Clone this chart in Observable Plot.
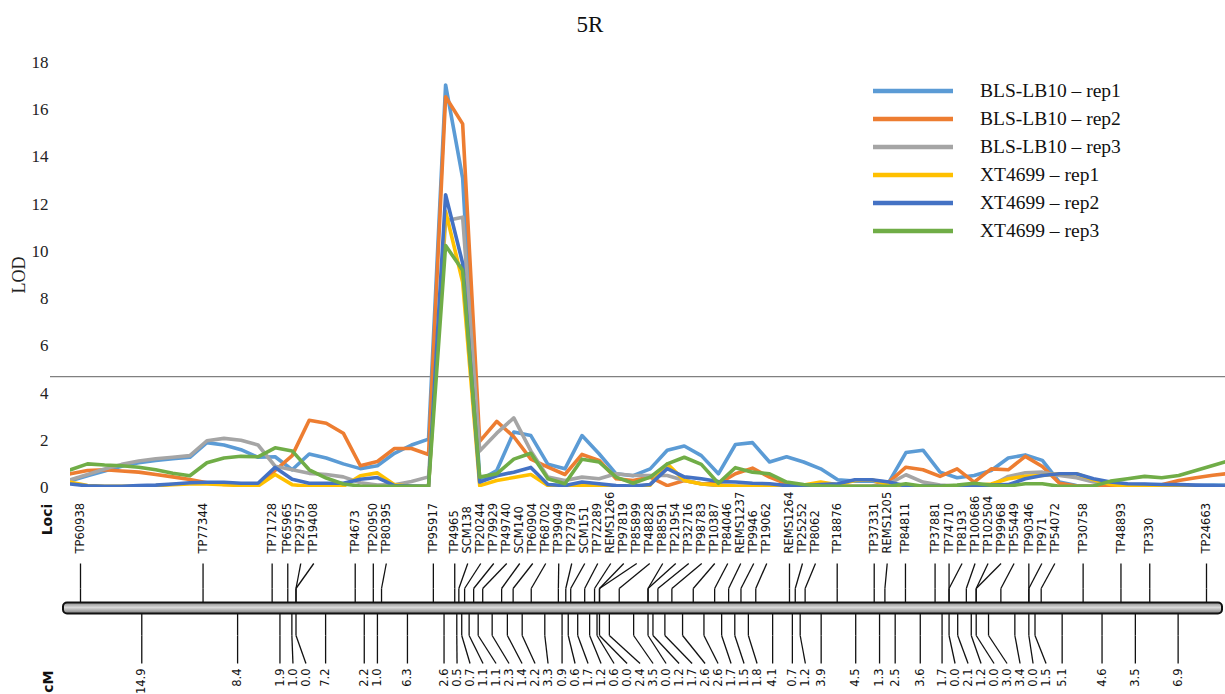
<!DOCTYPE html>
<html><head><meta charset="utf-8">
<script src="https://cdn.jsdelivr.net/npm/d3@7"></script>
<script src="https://cdn.jsdelivr.net/npm/@observablehq/plot@0.6"></script>
<style>
html,body{margin:0;padding:0;background:#fff;}
#wrap{position:relative;width:1225px;height:694px;overflow:hidden;background:#fff;}
#title{position:absolute;left:0;top:13px;width:1180px;text-align:center;font-family:"Liberation Serif",serif;font-size:23px;color:#111;line-height:1;}
#legend{position:absolute;left:873px;top:0;}
.lg{position:absolute;left:0;height:28px;display:flex;align-items:center;white-space:nowrap;font-family:"Liberation Serif",serif;font-size:19.5px;color:#111;}
.lg svg{margin-right:27px;display:block;}
#topchart svg,#mapchart svg{display:block;overflow:visible;}
#topchart{position:relative;z-index:2;}
</style>
</head><body>
<div id="wrap">
  <div id="topchart"></div>
  <div id="mapchart"></div>
  <div id="title">5R</div>
  <div id="legend"></div>
</div>
<script>
// ---------- DATA ----------
const chartTitle = "5R";
const yLabel = "LOD";
const yTicks = [0, 2, 4, 6, 8, 10, 12, 14, 16, 18];
const threshold = 4.7;
const seriesNames = ["BLS-LB10 – rep1", "BLS-LB10 – rep2", "BLS-LB10 – rep3", "XT4699 – rep1", "XT4699 – rep2", "XT4699 – rep3"];

const blsRep1 = [0.28,0.5,0.7,0.9,1.05,1.15,1.22,1.28,1.9,1.8,1.6,1.28,1.3,0.75,1.42,1.25,1.0,0.8,0.92,1.45,1.8,2.05,
  17.05,13.1,
  0.3,0.72,2.35,2.2,0.98,0.79,2.2,1.43,0.58,0.5,0.79,1.58,1.76,1.35,0.58,1.82,1.9,1.08,1.3,1.08,0.79,0.33,0.27,0.27,0.23,1.48,1.58,0.65,0.41,0.51,0.72,1.25,1.38,1.15,0.23,0.08,0.06,0.06,0.06,0.06,0.06,0.08,0.08,0.1,0.1];
const blsRep2 = [0.58,0.72,0.75,0.7,0.65,0.55,0.45,0.34,0.2,0.13,0.13,0.15,0.72,1.35,2.85,2.72,2.3,0.92,1.1,1.65,1.65,1.4,
  16.55,15.4,
  1.95,2.8,2.15,1.2,0.86,0.55,1.4,1.15,0.37,0.3,0.44,0.08,0.3,0.16,0.16,0.58,0.82,0.44,0.16,0.08,0.06,0.05,0.05,0.05,0.23,0.86,0.75,0.47,0.79,0.23,0.79,0.75,1.32,0.89,0.18,0.06,0.05,0.05,0.05,0.05,0.12,0.3,0.41,0.52,0.6];
const blsRep3 = [0.33,0.55,0.78,0.98,1.12,1.22,1.28,1.35,1.98,2.08,2.0,1.8,0.9,0.75,0.6,0.55,0.45,0.2,0.1,0.12,0.25,0.45,
  11.3,11.45,
  1.55,2.3,2.95,1.55,0.44,0.3,0.44,0.37,0.58,0.51,0.51,0.51,0.3,0.16,0.07,0.06,0.05,0.05,0.05,0.05,0.05,0.05,0.05,0.05,0.15,0.54,0.23,0.1,0.06,0.05,0.08,0.47,0.62,0.65,0.51,0.41,0.23,0.16,0.12,0.12,0.08,0.06,0.05,0.05,0.05];
const xtRep1 = [0.22,0.08,0.05,0.05,0.06,0.08,0.12,0.15,0.15,0.12,0.08,0.06,0.55,0.12,0.05,0.05,0.05,0.5,0.62,0.12,0.05,0.05,
  11.7,8.7,
  0.08,0.3,0.42,0.55,0.08,0.04,0.08,0.06,0.05,0.04,0.1,1.0,0.3,0.15,0.1,0.06,0.05,0.05,0.05,0.1,0.23,0.12,0.3,0.33,0.12,0.05,0.05,0.05,0.05,0.08,0.15,0.37,0.47,0.51,0.58,0.58,0.33,0.13,0.05,0.04,0.04,0.04,0.04,0.04,0.04];
const xtRep2 = [0.15,0.07,0.05,0.05,0.08,0.1,0.15,0.2,0.22,0.22,0.18,0.18,0.85,0.35,0.18,0.18,0.18,0.35,0.42,0.08,0.06,0.05,
  12.4,9.5,
  0.23,0.5,0.65,0.85,0.13,0.08,0.23,0.16,0.08,0.06,0.13,0.8,0.45,0.37,0.25,0.23,0.18,0.16,0.08,0.08,0.13,0.16,0.33,0.33,0.23,0.06,0.06,0.06,0.06,0.1,0.1,0.12,0.37,0.51,0.58,0.58,0.37,0.23,0.16,0.15,0.13,0.12,0.1,0.08,0.06];
const xtRep3 = [0.75,1.0,0.95,0.92,0.86,0.75,0.6,0.5,1.05,1.25,1.32,1.3,1.68,1.55,0.75,0.4,0.15,0.06,0.05,0.05,0.05,0.05,
  10.25,9.2,
  0.44,0.58,1.2,1.45,0.37,0.16,1.2,1.08,0.44,0.18,0.44,1.0,1.28,0.98,0.18,0.84,0.65,0.58,0.23,0.13,0.07,0.05,0.05,0.05,0.05,0.16,0.05,0.05,0.1,0.18,0.1,0.06,0.16,0.16,0.05,0.05,0.06,0.27,0.37,0.47,0.41,0.51,0.72,0.93,1.15];

const loci = ["TP60938","TP77344","TP71728","TP65965","TP29757","TP19408","TP4673","TP20950","TP80395","TP95917",
  "TP4965","SCM138","TP20244","TP79929","TP49740","SCM140","TP60904","TP68702","TP39049","TP27978","SCM151","TP72289",
  "REMS1266","TP97819","TP85899","TP48828","TP88591","TP21954","TP32716","TP98783","TP10387","TP84046","REMS1237",
  "TP9946","TP19062","REMS1264","TP25252","TP8062","TP18876","TP37331","REMS1205","TP84811","TP37881","TP74710",
  "TP8193","TP100686","TP102504","TP99968","TP55449","TP90346","TP971","TP54072","TP30758","TP48893","TP330","TP24663"];
const cmIntervals = [14.9,8.4,1.9,1.0,0.0,7.2,2.2,1.0,6.3,
  2.6,0.5,0.7,1.1,1.1,2.3,1.4,2.2,3.3,0.9,0.6,1.7,1.2,0.6,0.0,2.4,3.5,0.0,1.2,1.7,2.6,2.6,1.7,1.5,1.8,4.1,0.7,1.2,3.9,
  4.5,1.3,2.5,3.6,1.7,0.0,2.1,1.2,0.0,3.0,3.4,0.0,1.5,5.1,4.6,3.5,6.9];

// ---------- STYLE / LAYOUT ----------
const seriesColors = ["#5B9BD5","#ED7D31","#A5A5A5","#FFC000","#4472C4","#70AD47"];
const allSeries = [blsRep1, blsRep2, blsRep3, xtRep1, xtRep2, xtRep3];
const serif = "'Liberation Serif', 'Times New Roman', serif";
const sans = "'DejaVu Sans', Verdana, sans-serif";

// long table for lines
const rows = [];
allSeries.forEach((arr, s) => arr.forEach((v, i) => rows.push({series: seriesNames[s], i, v})));
const nPts = blsRep1.length;

const topPlot = Plot.plot({
  width: 1225, height: 490,
  marginTop: 62, marginBottom: 3, marginLeft: 70, marginRight: 0,
  style: {fontFamily: serif, color: "#222", background: "transparent", overflow: "visible"},
  x: {domain: [0, nPts - 1], range: [70, 70 + 17.05 * (nPts - 1)], axis: null},
  y: {domain: [0, 18]},
  color: {domain: seriesNames, range: seriesColors},
  marks: [
    Plot.axisY({ticks: yTicks, tickSize: 0, tickPadding: 22, fontSize: 17, label: null}),
    Plot.text([yLabel], {frameAnchor: "left", dx: -51, textAnchor: "middle", rotate: -90, text: d => d, fontSize: 18, fill: "#222"}),
    Plot.ruleY([threshold], {stroke: "#808080", strokeWidth: 1.2, insetLeft: -20}),
    Plot.line(rows, {x: "i", y: "v", z: "series", stroke: "series", strokeWidth: 3.6, clip: true})
  ]
});
document.getElementById("topchart").appendChild(topPlot);

// ---------- Genetic map ----------
const pos = [0];
cmIntervals.forEach((d, i) => pos.push(+(pos[i] + d).toFixed(2)));
const total = pos[pos.length - 1];
const mapRange = [80, 1206];
const pxPerCM = (mapRange[1] - mapRange[0]) / total;
const labelGap = 13 / pxPerCM;
function spread(ideal, gap) {
  const out = [];
  ideal.forEach((v, i) => out.push(i ? Math.max(v, out[i - 1] + gap) : v));
  return out;
}
const lociLabelPos = spread(pos, labelGap);
const lociRows = loci.map((name, i) => ({name, at: pos[i], lab: lociLabelPos[i]}));
const mids = cmIntervals.map((d, i) => (pos[i] + pos[i + 1]) / 2);
const midLab = spread(mids, labelGap);
const intRows = cmIntervals.map((d, i) => ({cm: d, at: mids[i], lab: midLab[i]}));
const padL = 17 / pxPerCM, padR = 16 / pxPerCM;
const tier = {lociText: 63, lociTop: 73, lociKink: 98, chromTop: 112.5, chromBottom: 123.5, cmKink: 145, cmEnd: 173, cmText: 178, lociHead: 29, cmHead: 180};

const mapPlot = Plot.plot({
  width: 1225, height: 204,
  marginTop: 0, marginBottom: 0, marginLeft: 0, marginRight: 0,
  style: {fontFamily: sans, background: "transparent", color: "#111", overflow: "visible"},
  x: {domain: [0, total], range: mapRange, axis: null},
  y: {type: "identity", axis: null},
  marks: [
    Plot.text(lociRows, {x: "lab", y: () => tier.lociText, text: "name", rotate: -90, textAnchor: "start", fontSize: 11.5, fill: "#111"}),
    Plot.link(lociRows, {x1: "lab", x2: "at", y1: () => tier.lociTop, y2: () => tier.lociKink, stroke: "#111", strokeWidth: 1.3}),
    Plot.link(lociRows, {x1: "at", x2: "at", y1: () => tier.lociKink, y2: () => tier.chromTop, stroke: "#111", strokeWidth: 1.3}),
    Plot.link(intRows, {x1: "at", x2: "at", y1: () => tier.chromBottom, y2: () => tier.cmKink, stroke: "#111", strokeWidth: 1.3}),
    Plot.link(intRows, {x1: "at", x2: "lab", y1: () => tier.cmKink, y2: () => tier.cmEnd, stroke: "#111", strokeWidth: 1.3}),
    Plot.rect([0], {x1: () => -padL, x2: () => total + padR, y1: () => tier.chromTop, y2: () => tier.chromBottom, fill: "url(#chromGrad)", stroke: "#111", strokeWidth: 2, rx: 4}),
    Plot.text(intRows, {x: "lab", y: () => tier.cmText, text: d => d.cm.toFixed(1), rotate: -90, textAnchor: "end", fontSize: 11.5, fill: "#111"}),
    Plot.text(["Loci"], {frameAnchor: "left", dx: 47, y: () => tier.lociHead, text: d => d, rotate: -90, textAnchor: "middle", fontSize: 14, fontWeight: "bold", fill: "#111"}),
    Plot.text(["cM"], {frameAnchor: "left", dx: 48, y: () => tier.cmHead, text: d => d, rotate: -90, textAnchor: "end", fontSize: 14, fontWeight: "bold", fill: "#111"})
  ]
});
d3.select(mapPlot).insert("defs", ":first-child").html(
  '<linearGradient id="chromGrad" x1="0" y1="0" x2="0" y2="1">' +
  '<stop offset="0" stop-color="#8a8a8a"/><stop offset="0.45" stop-color="#dadada"/><stop offset="1" stop-color="#7a7a7a"/></linearGradient>');
document.getElementById("mapchart").appendChild(mapPlot);

// ---------- title & legend ----------
document.getElementById("title").textContent = chartTitle;
const lg = d3.select("#legend");
seriesNames.forEach((name, k) => {
  const row = lg.append("div").attr("class", "lg").style("top", (91 + 28 * k - 14) + "px");
  const s = row.append("svg").attr("width", 80).attr("height", 8);
  s.append("line").attr("x1", 0).attr("x2", 80).attr("y1", 4).attr("y2", 4)
    .attr("stroke", seriesColors[k]).attr("stroke-width", 4.5);
  row.append("span").text(name);
});
</script>
</body></html>
